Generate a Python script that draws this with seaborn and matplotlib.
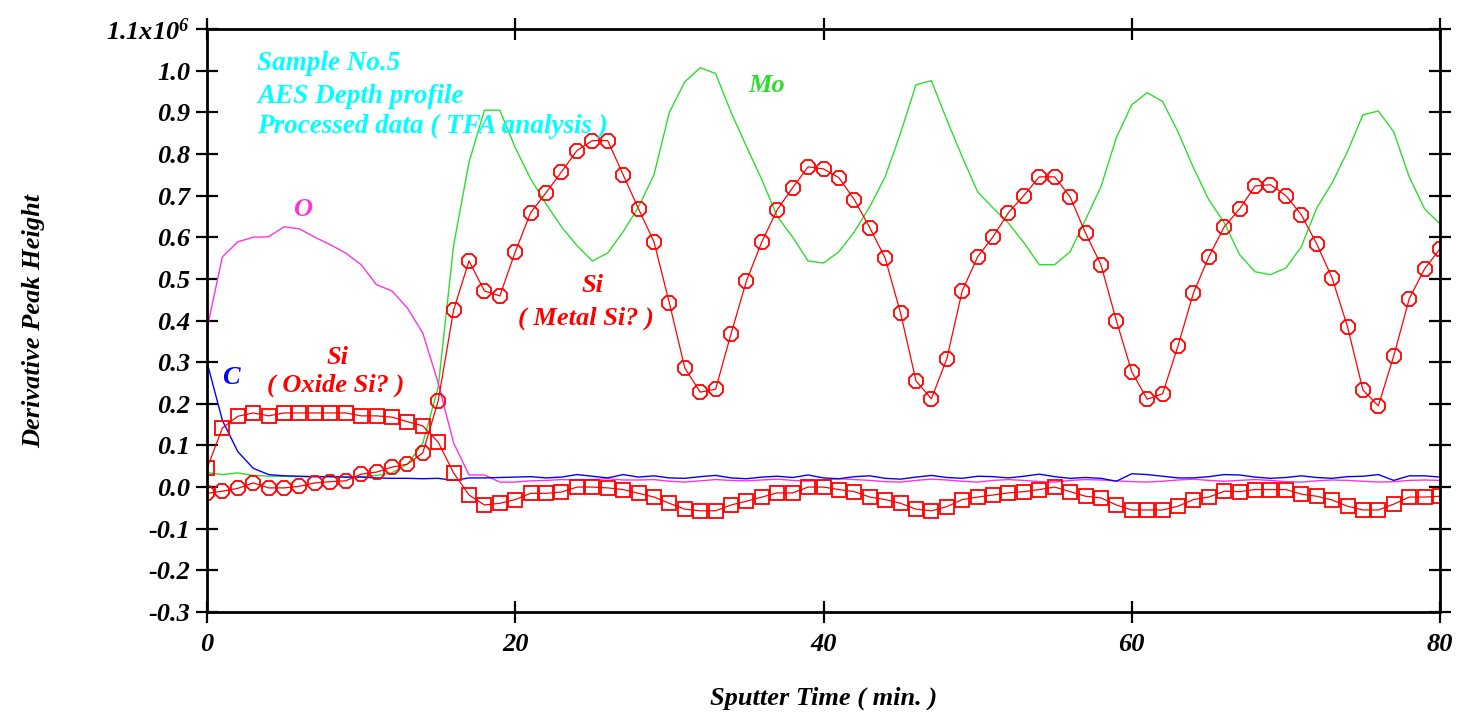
import numpy as np
import pandas as pd
import matplotlib
matplotlib.use("Agg")
import matplotlib.pyplot as plt
import seaborn as sns

# ---------------- data (units of 1e6) ----------------
time = list(range(0, 81))

si_metal = [
    -0.015, -0.010, -0.003, 0.010, -0.002, -0.002, 0.002, 0.010, 0.013, 0.015,
    0.031, 0.036, 0.048, 0.055, 0.082, 0.207, 0.425, 0.543, 0.471, 0.459,
    0.565, 0.659, 0.707, 0.757, 0.808, 0.832, 0.832, 0.750, 0.668, 0.589,
    0.442, 0.286, 0.228, 0.235, 0.368, 0.495, 0.589, 0.666, 0.719, 0.769,
    0.764, 0.743, 0.690, 0.623, 0.550, 0.418, 0.255, 0.212, 0.308, 0.471,
    0.553, 0.601, 0.659, 0.700, 0.745, 0.745, 0.697, 0.610, 0.534, 0.400,
    0.277, 0.211, 0.224, 0.339, 0.466, 0.553, 0.625, 0.668, 0.723, 0.726,
    0.700, 0.654, 0.584, 0.502, 0.385, 0.233, 0.195, 0.315, 0.452, 0.524,
    0.572,
]

si_oxide = [
    0.045, 0.142, 0.170, 0.178, 0.171, 0.178, 0.178, 0.178, 0.178, 0.178,
    0.171, 0.171, 0.168, 0.157, 0.147, 0.108, 0.034, -0.019, -0.043, -0.039,
    -0.030, -0.015, -0.015, -0.012, 0.000, 0.000, -0.002, -0.006, -0.015, -0.024,
    -0.039, -0.053, -0.057, -0.057, -0.043, -0.034, -0.024, -0.014, -0.014, 0.000,
    0.000, -0.006, -0.011, -0.024, -0.030, -0.039, -0.053, -0.057, -0.047, -0.030,
    -0.024, -0.019, -0.014, -0.011, -0.006, 0.000, -0.011, -0.022, -0.026, -0.043,
    -0.055, -0.055, -0.055, -0.046, -0.030, -0.024, -0.010, -0.011, -0.006, -0.006,
    -0.006, -0.017, -0.022, -0.031, -0.046, -0.055, -0.055, -0.041, -0.024, -0.024,
    -0.022,
]

mo = [
    0.035, 0.030, 0.034, 0.028, 0.026, 0.026, 0.025, 0.025, 0.025, 0.024,
    0.025, 0.028, 0.034, 0.055, 0.105, 0.240, 0.580, 0.780, 0.905, 0.905,
    0.815, 0.740, 0.680, 0.625, 0.580, 0.543, 0.562, 0.613, 0.673, 0.750,
    0.900, 0.973, 1.007, 0.993, 0.900, 0.818, 0.738, 0.650, 0.600, 0.543,
    0.538, 0.565, 0.613, 0.673, 0.745, 0.850, 0.966, 0.976, 0.882, 0.793,
    0.709, 0.670, 0.634, 0.587, 0.534, 0.534, 0.565, 0.642, 0.721, 0.839,
    0.918, 0.947, 0.926, 0.853, 0.767, 0.690, 0.635, 0.558, 0.517, 0.510,
    0.526, 0.577, 0.670, 0.730, 0.806, 0.894, 0.903, 0.853, 0.745, 0.668,
    0.632,
]

oxygen = [
    0.380, 0.553, 0.589, 0.600, 0.601, 0.625, 0.620, 0.600, 0.582, 0.562,
    0.534, 0.486, 0.471, 0.430, 0.370, 0.250, 0.106, 0.029, 0.029, 0.012,
    0.012, 0.015, 0.016, 0.018, 0.017, 0.018, 0.020, 0.017, 0.017, 0.018,
    0.014, 0.012, 0.015, 0.018, 0.016, 0.015, 0.017, 0.019, 0.016, 0.014,
    0.017, 0.020, 0.018, 0.016, 0.013, 0.012, 0.016, 0.019, 0.017, 0.014,
    0.012, 0.016, 0.018, 0.016, 0.013, 0.012, 0.016, 0.018, 0.017, 0.015,
    0.013, 0.012, 0.014, 0.017, 0.019, 0.016, 0.014, 0.016, 0.018, 0.016,
    0.013, 0.012, 0.015, 0.017, 0.016, 0.014, 0.012, 0.013, 0.016, 0.017,
    0.016,
]

carbon = [
    0.300, 0.160, 0.085, 0.045, 0.030, 0.027, 0.026, 0.025, 0.025, 0.024,
    0.024, 0.022, 0.021, 0.021, 0.020, 0.021, 0.016, 0.022, 0.022, 0.023,
    0.024, 0.025, 0.022, 0.024, 0.030, 0.026, 0.022, 0.030, 0.024, 0.027,
    0.022, 0.021, 0.025, 0.028, 0.022, 0.020, 0.024, 0.026, 0.023, 0.029,
    0.022, 0.020, 0.025, 0.027, 0.021, 0.019, 0.024, 0.028, 0.023, 0.021,
    0.026, 0.025, 0.022, 0.026, 0.031, 0.025, 0.021, 0.023, 0.021, 0.014,
    0.032, 0.030, 0.026, 0.022, 0.022, 0.025, 0.030, 0.029, 0.024, 0.021,
    0.023, 0.027, 0.023, 0.021, 0.025, 0.026, 0.030, 0.016, 0.027, 0.027,
    0.024,
]

y_ticks = [-0.3, -0.2, -0.1, 0.0, 0.1, 0.2, 0.3, 0.4, 0.5, 0.6, 0.7, 0.8, 0.9, 1.0, 1.1]
y_tick_labels = ["-0.3", "-0.2", "-0.1", "0.0", "0.1", "0.2", "0.3", "0.4", "0.5",
                 "0.6", "0.7", "0.8", "0.9", "1.0", r"1.1x10$^{6}$"]
x_ticks = [0, 20, 40, 60, 80]

df = pd.DataFrame({"time": time, "Si_metal": si_metal, "Si_oxide": si_oxide,
                   "Mo": mo, "O": oxygen, "C": carbon})

# ---------------- style ----------------
sns.set_theme(style="white")
plt.rcParams["font.family"] = ["Liberation Serif", "DejaVu Serif"]
plt.rcParams["font.style"] = "italic"
plt.rcParams["font.weight"] = "bold"
plt.rcParams["mathtext.fontset"] = "custom"
plt.rcParams["mathtext.rm"] = "Liberation Serif:italic:bold"
plt.rcParams["mathtext.it"] = "Liberation Serif:italic:bold"
plt.rcParams["mathtext.bf"] = "Liberation Serif:italic:bold"

fig = plt.figure(figsize=(14.59, 7.15), dpi=100)
ax = fig.add_axes([207 / 1459, 1 - 612 / 715, (1440 - 207) / 1459, (612 - 29) / 715])

GREEN = "#2ddd2d"
MAGENTA = "#ff33dd"
BLUE = "#0000ff"
RED = "#ff0000"
CYAN = "#00ffff"

sns.lineplot(data=df, x="time", y="Mo", ax=ax, color=GREEN, linewidth=1.0)
sns.lineplot(data=df, x="time", y="O", ax=ax, color=MAGENTA, linewidth=1.0)
sns.lineplot(data=df, x="time", y="C", ax=ax, color=BLUE, linewidth=1.0)
sns.lineplot(data=df, x="time", y="Si_oxide", ax=ax, color=RED, linewidth=0.9,
             marker="s", markersize=10, markerfacecolor="none",
             markeredgecolor=RED, markeredgewidth=1.3)
sns.lineplot(data=df, x="time", y="Si_metal", ax=ax, color=RED, linewidth=0.9,
             marker="8", markersize=10.5, markerfacecolor="none",
             markeredgecolor=RED, markeredgewidth=1.3)

fnt = dict(family="Liberation Serif", style="italic", weight="bold")

ax.set_xlim(0, 80)
ax.set_ylim(-0.3, 1.1)
ax.set_xticks(x_ticks)
ax.set_xticklabels([str(v) for v in x_ticks], fontsize=19, color="black", **fnt)
ax.set_yticks(y_ticks)
ax.set_yticklabels(y_tick_labels, fontsize=19, color="black", **fnt)

ax.tick_params(axis="both", which="major", direction="inout", length=16, width=1.6,
               color="black", top=True, right=True, bottom=True, left=True,
               labeltop=False, labelright=False, pad=4)
ax.tick_params(axis="x", pad=7)
for s in ax.spines.values():
    s.set_visible(True)
    s.set_color("black")
    s.set_linewidth(2.0)

ax.set_xlabel("Sputter Time ( min. )", fontsize=19, labelpad=22, color="black", **fnt)
ax.set_ylabel("Derivative Peak Height", fontsize=19, labelpad=44, color="black", **fnt)

# annotations
ax.text(3.25, 1.017, "Sample No.5", color=CYAN, fontsize=19.5, ha="left", va="center", **fnt)
ax.text(3.25, 0.937, "AES Depth profile", color=CYAN, fontsize=19.5, ha="left", va="center", **fnt)
ax.text(3.25, 0.865, "Processed data ( TFA analysis )", color=CYAN, fontsize=19.5,
        ha="left", va="center", **fnt)
ax.text(36.3, 0.964, "Mo", color=GREEN, fontsize=19, ha="center", va="center", **fnt)
ax.text(6.2, 0.666, "O", color=MAGENTA, fontsize=19, ha="center", va="center", **fnt)
ax.text(1.55, 0.262, "C", color=BLUE, fontsize=19, ha="center", va="center", **fnt)
ax.text(8.5, 0.312, "Si", color=RED, fontsize=19, ha="center", va="center", **fnt)
ax.text(8.35, 0.245, "( Oxide Si? )", color=RED, fontsize=19, ha="center", va="center", **fnt)
ax.text(25.0, 0.485, "Si", color=RED, fontsize=19, ha="center", va="center", **fnt)
ax.text(24.6, 0.405, "( Metal Si? )", color=RED, fontsize=19, ha="center", va="center", **fnt)

fig.savefig("out.png", dpi=100)
